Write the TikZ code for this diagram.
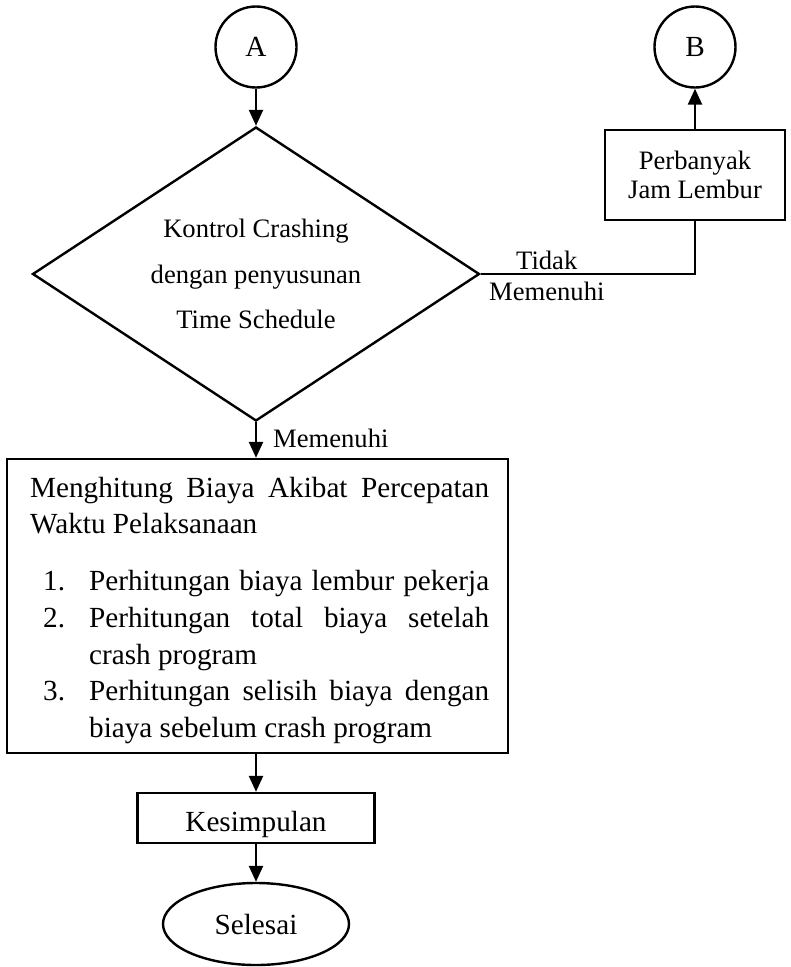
\documentclass[tikz,border=0pt]{standalone}
\usepackage{fontspec}
\setmainfont{Liberation Serif}
\usetikzlibrary{shapes.geometric,arrows.meta}
\begin{document}
\begin{tikzpicture}[x=1pt,y=-1pt,
  line width=2.4pt,
  conn/.style={-{Triangle[length=16pt,width=14pt]}},
  big/.style={font=\fontsize{29.2}{34}\selectfont},
  small/.style={font=\fontsize{26.6}{29.5}\selectfont},
  conncircle/.style={draw,circle,minimum size=81pt,inner sep=0pt,big,text depth=0pt},
  boxx/.style={draw,rectangle,inner sep=0pt},
  line/.style={big,anchor=base west,inner sep=0pt},
  lbl/.style={small,anchor=base west,inner sep=0pt},
]
\useasboundingbox (0,0) rectangle (791,967);

% shapes
\node[conncircle] (A) at (256,47) {A};
\node[draw,diamond,minimum width=447pt,minimum height=294pt,inner sep=0pt] (dia) at (256,274) {};
\node[align=center,font=\fontsize{26.6}{45.5}\selectfont,inner sep=0pt] (diatext) at (256,274)
  {Kontrol Crashing\\dengan penyusunan\\Time Schedule};
\node[conncircle] (B) at (695,47) {B};
\node[boxx,minimum width=180pt,minimum height=90pt,align=center,small] (pb) at (695,175)
  {Perbanyak\\Jam Lembur};
\node[boxx,minimum width=501pt,minimum height=294pt] (calc) at (257.5,606) {};
\node[boxx,minimum width=237pt,minimum height=50pt,big,text height=26pt,text depth=0pt] (kes) at (256,818) {Kesimpulan};
\node[draw,ellipse,minimum width=186pt,minimum height=82pt,inner sep=0pt,big,text depth=0pt] (sel) at (256,924) {Selesai};

% text of the calculation box
\node[line] (t1) at (29,497) {\makebox[459pt][s]{Menghitung Biaya Akibat Percepatan}};
\node[line] (t2) at (29,533) {Waktu Pelaksanaan};
\node[line] (n1) at (42,590) {1.};
\node[line] (t3) at (88,590) {\makebox[400pt][s]{Perhitungan biaya lembur pekerja}};
\node[line] (n2) at (42,627) {2.};
\node[line] (t4) at (88,627) {\makebox[400pt][s]{Perhitungan total biaya setelah}};
\node[line] (t5) at (88,664) {crash program};
\node[line] (n3) at (42,700) {3.};
\node[line] (t6) at (88,700) {\makebox[400pt][s]{Perhitungan selisih biaya dengan}};
\node[line] (t7) at (88,737) {biaya sebelum crash program};

% labels
\node[lbl] (lmem1) at (272,447) {Memenuhi};
\node[lbl] (ltidak) at (515,269) {Tidak};
\node[lbl] (lmem2) at (488,300) {Memenuhi};

% connectors
\draw[conn] (A) -- (dia);
\draw[conn] (dia.south) -- (dia.south |- calc.north);
\draw (dia.east) -| (pb.south);
\draw[conn] (pb) -- (B);
\draw[conn] (calc.south -| kes.north) -- (kes.north);
\draw[conn] (kes) -- (sel);
\end{tikzpicture}
\end{document}
